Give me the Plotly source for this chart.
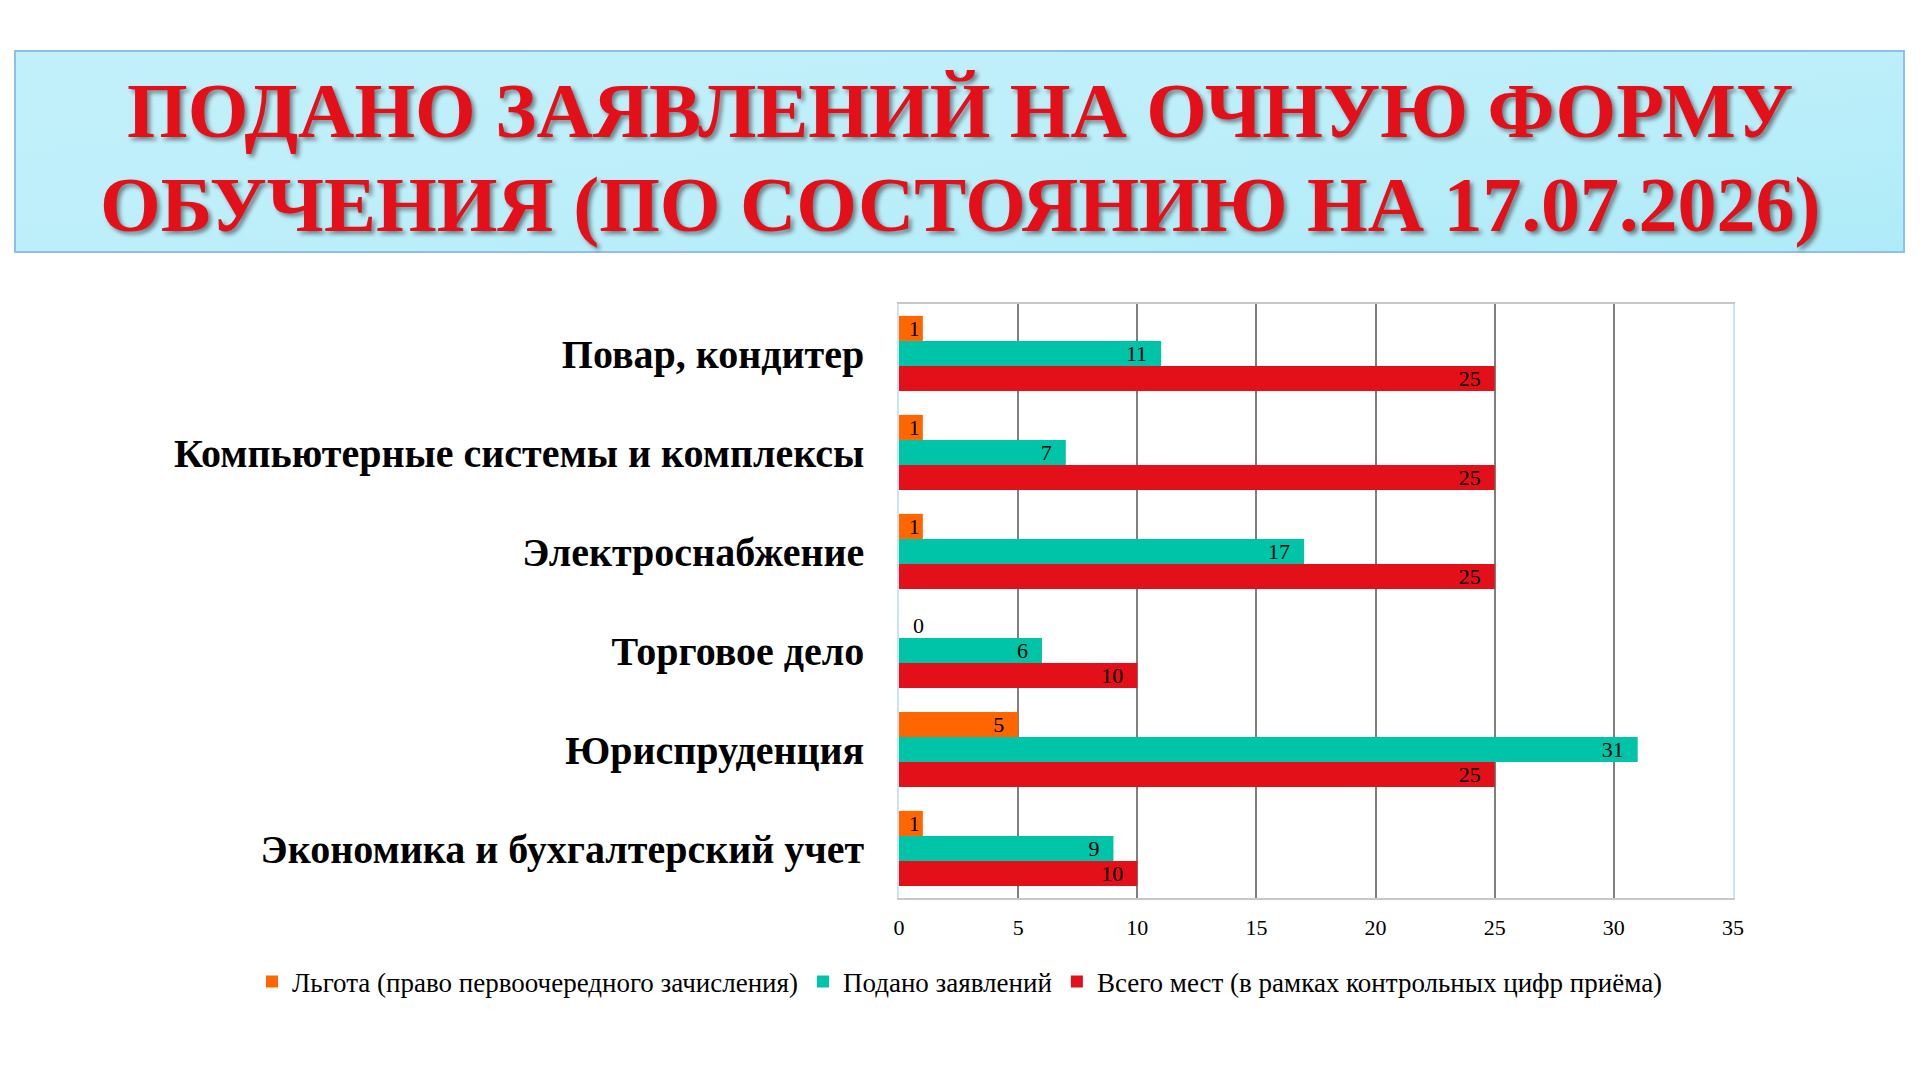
import plotly.graph_objects as go

categories = [
    "Повар, кондитер",
    "Компьютерные системы и комплексы",
    "Электроснабжение",
    "Торговое дело",
    "Юриспруденция",
    "Экономика и бухгалтерский учет",
]
lgota = [1, 1, 1, 0, 5, 1]
podano = [11, 7, 17, 6, 31, 9]
vsego = [25, 25, 25, 10, 25, 10]

series_names = [
    "Льгота (право первоочередного зачисления)",
    "Подано заявлений",
    "Всего мест (в рамках контрольных цифр приёма)",
]
series_colors = ["#ff6600", "#00c4a7", "#e3101a"]
x_ticks = [0, 5, 10, 15, 20, 25, 30, 35]

title_line1 = "ПОДАНО ЗАЯВЛЕНИЙ НА ОЧНУЮ ФОРМУ"
title_line2 = "ОБУЧЕНИЯ (ПО СОСТОЯНИЮ НА 17.07.2026)"

SERIF = "Liberation Serif, Times New Roman, serif"
NB = "\u00a0"


def label(v):
    if v == 0:
        return NB + NB + str(v)
    if v >= 3:
        return str(v) + NB + NB
    return str(v)


fig = go.Figure()
for name, vals, col in zip(series_names, [lgota, podano, vsego], series_colors):
    fig.add_trace(go.Bar(
        y=categories, x=vals, orientation="h", name=name,
        marker=dict(color=col, line=dict(width=0)),
        text=[label(v) for v in vals],
        textposition=["inside" if v > 0 else "outside" for v in vals],
        insidetextanchor="end",
        textangle=0,
        constraintext="none",
        textfont=dict(family=SERIF, size=22, color="#000000"),
        outsidetextfont=dict(family=SERIF, size=22, color="#000000"),
        cliponaxis=False,
    ))

W, H = 1920, 1080
bx0, bx1, by0, by1 = 15, 1904, 51, 252

svg = (
    "<svg xmlns='http://www.w3.org/2000/svg' width='100' height='100' preserveAspectRatio='none'>"
    "<defs><linearGradient id='g' x1='0' y1='0' x2='1' y2='1'>"
    "<stop offset='0' stop-color='%23c2f0fa'/>"
    "<stop offset='0.5' stop-color='%23bdeffa'/>"
    "<stop offset='1' stop-color='%23aeebf8'/>"
    "</linearGradient></defs>"
    "<rect width='100' height='100' fill='url(%23g)'/></svg>"
)
img_src = "data:image/svg+xml;utf8," + svg

fig.update_layout(
    width=W, height=H,
    margin=dict(l=0, r=0, t=0, b=0),
    paper_bgcolor="white", plot_bgcolor="white",
    barmode="group", bargap=0.24, bargroupgap=0,
    font=dict(family=SERIF, color="#000000"),
    showlegend=True,
    legend=dict(
        orientation="h", x=0.5, xanchor="center", y=(H - 982) / H, yanchor="middle",
        font=dict(family=SERIF, size=27, color="#000000"),
        itemwidth=30, tracegroupgap=0,
    ),
    xaxis=dict(
        domain=[899 / W, 1733 / W], range=[0, 35],
        tickvals=x_ticks, ticktext=[str(t) for t in x_ticks],
        showgrid=True, gridcolor="#7f7f7f", gridwidth=1.5,
        zeroline=False, automargin=False,
        showline=True, linecolor="#c8c8c8", linewidth=1.5, mirror=True,
        ticks="outside", ticklen=9, tickcolor="rgba(0,0,0,0)",
        tickfont=dict(family=SERIF, size=22, color="#000000"),
        fixedrange=True,
    ),
    yaxis=dict(
        domain=[(H - 898) / H, (H - 304) / H],
        categoryorder="array", categoryarray=categories,
        autorange="reversed", automargin=False,
        showgrid=False, zeroline=False,
        showline=True, linecolor="#c8e6ef", linewidth=1.5, mirror=True,
        ticks="outside", ticklen=25, tickcolor="rgba(0,0,0,0)",
        tickfont=dict(family=SERIF, size=40, color="#000000", weight="bold"),
        fixedrange=True,
    ),
    images=[dict(
        source=img_src, xref="paper", yref="paper",
        x=bx0 / W, y=1 - by0 / H, sizex=(bx1 - bx0) / W, sizey=(by1 - by0) / H,
        xanchor="left", yanchor="top", sizing="stretch", layer="below",
    )],
    shapes=[dict(
        type="rect", xref="paper", yref="paper",
        x0=bx0 / W, x1=bx1 / W, y0=1 - by1 / H, y1=1 - by0 / H,
        line=dict(color="#8fbfe8", width=2), fillcolor="rgba(0,0,0,0)", layer="above",
    )],
    annotations=[
        dict(text=title_line1, xref="paper", yref="paper", x=0.5, y=1 - 110 / H,
             xanchor="center", yanchor="middle", showarrow=False,
             font=dict(family=SERIF, size=78, color="#e3101a", weight="bold",
                       shadow="3px 3px 4px rgba(0,0,0,0.45)")),
        dict(text=title_line2, xref="paper", yref="paper", x=0.5, y=1 - 204 / H,
             xanchor="center", yanchor="middle", showarrow=False,
             font=dict(family=SERIF, size=78, color="#e3101a", weight="bold",
                       shadow="3px 3px 4px rgba(0,0,0,0.45)")),
    ],
)

fig.write_html("out.html")
